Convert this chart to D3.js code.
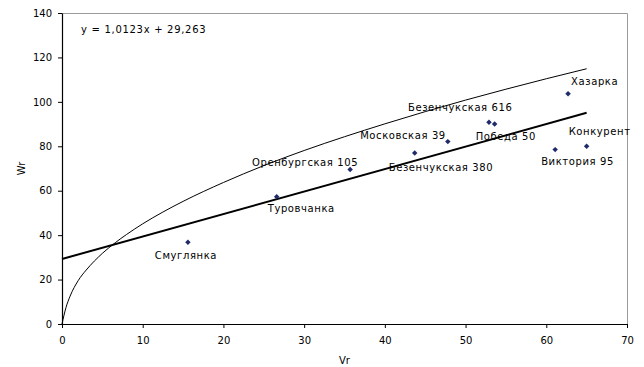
<!DOCTYPE html>
<html>
<head>
<meta charset="utf-8">
<script src="https://cdn.jsdelivr.net/npm/d3@7"></script>
<style>
  html, body { margin: 0; padding: 0; background: #fff; }
  svg { display: block; }
  text { font-family: "DejaVu Sans", sans-serif; fill: #000; }
</style>
</head>
<body>
<svg id="chart" width="644" height="367"></svg>
<script>
// Varieties: yield components Vr (x) and Wr (y)
const varieties = ["Смуглянка", "Туровчанка", "Оренбургская 105", "Безенчукская 380",
  "Московская 39", "Безенчукская 616", "Победа 50", "Хазарка", "Виктория 95", "Конкурент"];
const vrValues = [15.6, 26.6, 35.7, 43.7, 47.8, 52.9, 53.6, 62.7, 61.1, 65.0];
const wrValues = [36.8, 57.3, 69.5, 77.0, 82.1, 90.8, 90.0, 103.7, 78.5, 80.0];

// Linear trend shown in the chart
const trendSlope = 1.0123;
const trendIntercept = 29.263;
const trendLabel = "y = 1,0123x + 29,263";

// Limiting curve (Vr, Wr pairs)
const limitVr = [0, 0.5, 1, 2, 3, 4, 5, 6.6, 8, 10, 12.5, 15, 20, 25, 30, 35, 40, 45, 50, 55, 60, 65];
const limitWr = [0, 7.5, 12.5, 19.5, 24.3, 28.3, 31.8, 36.6, 40.3, 45.1, 50.4, 55.2, 63.7, 71.3, 78.1, 84.3, 90.1, 95.6, 100.8, 105.7, 110.4, 114.9];

// Axis ticks
const xTicks = [0, 10, 20, 30, 40, 50, 60, 70];
const yTicks = [0, 20, 40, 60, 80, 100, 120, 140];

// Label placement relative to each marker
const labelPlacement = {
  "Смуглянка":        { dx: -2,  dy: 17,  anchor: "middle" },
  "Туровчанка":       { dx: -9,  dy: 15,  anchor: "start" },
  "Оренбургская 105": { dx: 8,   dy: -4,  anchor: "end" },
  "Безенчукская 380": { dx: -26, dy: 18,  anchor: "start" },
  "Московская 39":    { dx: -2,  dy: -3,  anchor: "end" },
  "Безенчукская 616": { dx: -81, dy: -11, anchor: "start" },
  "Победа 50":        { dx: -19, dy: 16,  anchor: "start" },
  "Хазарка":          { dx: 3,   dy: -9,  anchor: "start" },
  "Виктория 95":      { dx: -14, dy: 15,  anchor: "start" },
  "Конкурент":        { dx: -18, dy: -11, anchor: "start" }
};

const svg = d3.select("#chart");
const plot = { left: 62, right: 627, top: 13, bottom: 324 };

const x = d3.scaleLinear().domain([0, 70]).range([plot.left, plot.right]);
const y = d3.scaleLinear().domain([0, 140]).range([plot.bottom, plot.top]);

// Frame: grey top and right edges
svg.append("path")
  .attr("d", `M${plot.left},${plot.top + 0.5}H${plot.right + 0.5}V${plot.bottom}`)
  .attr("fill", "none")
  .attr("stroke", "#9a9a9a")
  .attr("stroke-width", 1);

// Axes
const xAxis = svg.append("g")
  .attr("transform", `translate(0,${plot.bottom})`)
  .call(d3.axisBottom(x).tickValues(xTicks).tickSize(4).tickPadding(9).tickSizeOuter(0));
const yAxis = svg.append("g")
  .attr("transform", `translate(${plot.left},0)`)
  .call(d3.axisLeft(y).tickValues(yTicks).tickSize(4).tickPadding(6).tickSizeOuter(0));

[xAxis, yAxis].forEach(g => {
  g.selectAll("path.domain").attr("stroke", "#000").attr("stroke-width", 1.2);
  g.selectAll(".tick line").attr("stroke", "#000");
  g.selectAll(".tick text")
    .attr("font-family", "DejaVu Sans, sans-serif")
    .attr("font-size", 10)
    .attr("fill", "#000");
});

// Axis titles
svg.append("text")
  .attr("x", (plot.left + plot.right) / 2)
  .attr("y", 364)
  .attr("text-anchor", "middle")
  .attr("font-size", 10)
  .text("Vr");
svg.append("text")
  .attr("transform", `translate(25,${(plot.top + plot.bottom) / 2}) rotate(-90)`)
  .attr("text-anchor", "middle")
  .attr("font-size", 10)
  .text("Wr");

// Limiting curve
const curvePts = limitVr.map((v, i) => [v, limitWr[i]]);
svg.append("path")
  .datum(curvePts)
  .attr("fill", "none")
  .attr("stroke", "#000")
  .attr("stroke-width", 1)
  .attr("d", d3.line().x(d => x(d[0])).y(d => y(d[1])).curve(d3.curveMonotoneX));

// Trend line across the data range
const trendX = [0, d3.max(vrValues)];
svg.append("path")
  .datum(trendX)
  .attr("fill", "none")
  .attr("stroke", "#000")
  .attr("stroke-width", 2)
  .attr("d", d3.line().x(d => x(d)).y(d => y(trendSlope * d + trendIntercept)));

svg.append("text")
  .attr("x", 81)
  .attr("y", 33)
  .attr("font-size", 10)
  .attr("letter-spacing", 0.7)
  .text(trendLabel);

// Markers: small diamonds (squares turned 45 degrees)
const points = varieties.map((name, i) => ({ name, vr: vrValues[i], wr: wrValues[i] }));
svg.append("g").selectAll("path")
  .data(points)
  .join("path")
  .attr("transform", d => `translate(${x(d.vr)},${y(d.wr)}) rotate(45)`)
  .attr("d", d3.symbol().type(d3.symbolSquare).size(15))
  .attr("fill", "#1f2a6b");

// Variety labels
svg.append("g").selectAll("text")
  .data(points)
  .join("text")
  .attr("x", d => x(d.vr) + labelPlacement[d.name].dx)
  .attr("y", d => y(d.wr) + labelPlacement[d.name].dy)
  .attr("text-anchor", d => labelPlacement[d.name].anchor)
  .attr("font-size", 10)
  .attr("letter-spacing", 0.6)
  .text(d => d.name);
</script>
</body>
</html>
